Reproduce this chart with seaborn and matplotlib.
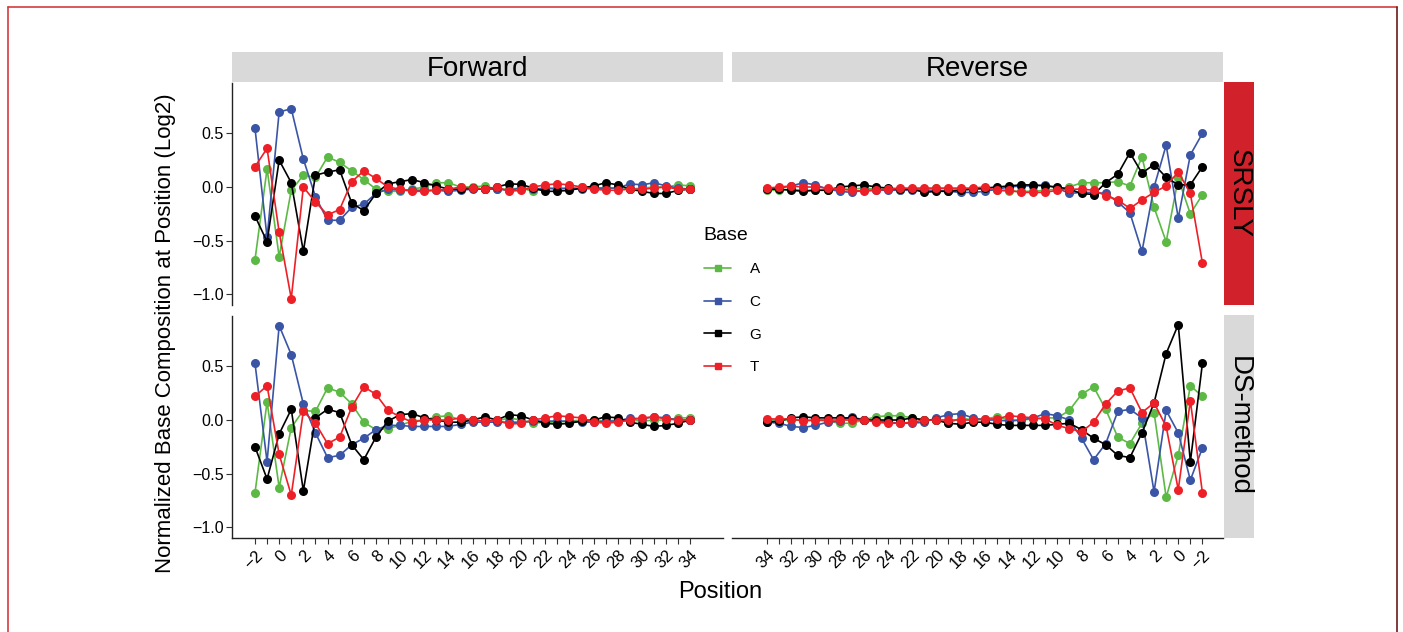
import matplotlib
matplotlib.use("Agg")
import matplotlib.pyplot as plt
from matplotlib.lines import Line2D
import numpy as np
import pandas as pd
import seaborn as sns

positions = list(range(-2, 35))
bases = ["A", "C", "G", "T"]
strands = ["Forward", "Reverse"]
methods = ["SRSLY", "DS-method"]

# values for positions -2 .. 34
srsly_fwd_A = [-0.68, 0.17, -0.65, -0.03, 0.11, 0.09, 0.28, 0.23, 0.15, 0.07, -0.02, -0.04, -0.04, -0.02, 0.0, 0.04, 0.04, 0.0, 0.0,
               0.01, -0.02, -0.02, -0.01, -0.04, -0.01, -0.01, -0.01, 0.0, -0.01, -0.01, -0.01, -0.02, -0.01, 0.0, 0.0, 0.02, 0.01]
srsly_fwd_C = [0.55, -0.47, 0.70, 0.73, 0.26, -0.09, -0.31, -0.31, -0.19, -0.16, -0.06, -0.02, -0.03, -0.03, -0.03, -0.03, -0.04, -0.03, -0.02,
               -0.02, -0.02, -0.03, -0.01, -0.02, -0.01, -0.02, -0.01, -0.02, -0.01, -0.01, -0.01, 0.03, 0.02, 0.04, 0.01, -0.01, -0.02]
srsly_fwd_G = [-0.27, -0.51, 0.25, 0.04, -0.60, 0.11, 0.14, 0.16, -0.15, -0.22, -0.06, 0.03, 0.05, 0.07, 0.04, 0.01, -0.02, -0.02, -0.01,
               -0.02, 0.0, 0.03, 0.025, -0.01, -0.04, -0.04, -0.03, -0.01, 0.01, 0.04, 0.02, -0.02, -0.04, -0.06, -0.06, -0.03, -0.02]
srsly_fwd_T = [0.19, 0.36, -0.42, -1.04, 0.0, -0.14, -0.26, -0.21, 0.05, 0.15, 0.08, 0.0, -0.02, -0.04, -0.04, -0.03, -0.02, 0.0, -0.01,
               -0.02, 0.0, -0.04, -0.03, 0.0, 0.02, 0.03, 0.02, 0.0, -0.02, -0.03, -0.03, -0.02, -0.02, -0.01, 0.0, -0.02, -0.02]

srsly_rev_A = [-0.07, -0.25, 0.08, -0.51, -0.19, 0.28, 0.01, 0.05, 0.04, 0.04, 0.04, 0.0, -0.02, -0.03, -0.04, -0.04, -0.04, -0.03, -0.02,
               -0.02, -0.02, -0.02, -0.01, -0.02, -0.02, -0.03, -0.02, -0.02, -0.01, -0.02, -0.02, -0.03, -0.03, -0.03, -0.02, -0.03, -0.03]
srsly_rev_C = [0.50, 0.30, -0.29, 0.39, 0.0, -0.60, -0.24, -0.14, -0.06, -0.05, -0.05, -0.06, -0.01, 0.02, 0.01, 0.01, 0.0, -0.02, -0.04,
               -0.05, -0.05, -0.04, -0.03, -0.03, -0.03, -0.03, -0.03, -0.03, -0.03, -0.05, -0.04, -0.02, 0.02, 0.04, 0.01, -0.01, -0.02]
srsly_rev_G = [0.19, 0.02, 0.02, 0.09, 0.21, 0.13, 0.32, 0.12, 0.04, -0.07, -0.06, -0.02, 0.0, 0.01, 0.02, 0.02, 0.01, 0.0, -0.01,
               -0.02, -0.03, -0.04, -0.04, -0.05, -0.02, -0.02, -0.01, 0.0, 0.02, 0.01, 0.0, -0.03, -0.03, -0.04, -0.03, -0.02, -0.02]
srsly_rev_T = [-0.71, -0.06, 0.14, 0.01, -0.05, -0.12, -0.20, -0.12, -0.08, -0.03, -0.02, -0.02, -0.03, -0.05, -0.05, -0.05, -0.03, -0.03, 0.0,
               -0.01, -0.01, -0.01, -0.01, -0.01, -0.01, -0.01, -0.02, -0.03, -0.04, -0.03, -0.02, -0.01, 0.0, 0.0, 0.01, 0.0, -0.01]

ds_fwd_A = [-0.68, 0.17, -0.63, -0.07, 0.09, 0.08, 0.30, 0.26, 0.15, -0.02, -0.09, -0.08, -0.05, -0.01, 0.0, 0.03, 0.04, 0.0, 0.0,
            -0.01, -0.01, 0.02, 0.0, -0.03, -0.02, -0.02, -0.01, 0.0, 0.0, -0.01, 0.0, 0.0, -0.01, 0.0, 0.0, 0.02, 0.02]
ds_fwd_C = [0.53, -0.39, 0.88, 0.61, 0.15, -0.12, -0.35, -0.33, -0.23, -0.17, -0.09, -0.05, -0.05, -0.06, -0.06, -0.06, -0.06, -0.04, -0.02,
            -0.02, -0.02, -0.02, -0.02, -0.01, -0.01, -0.01, -0.01, -0.02, -0.02, -0.01, -0.01, 0.02, 0.01, 0.03, 0.02, 0.0, 0.0]
ds_fwd_G = [-0.25, -0.55, -0.13, 0.10, -0.66, 0.02, 0.10, 0.07, -0.23, -0.37, -0.16, -0.01, 0.05, 0.06, 0.02, 0.0, -0.02, -0.02, 0.0,
            0.03, 0.0, 0.05, 0.04, 0.0, -0.03, -0.04, -0.03, -0.01, 0.0, 0.03, 0.02, -0.02, -0.04, -0.06, -0.05, -0.03, 0.0]
ds_fwd_T = [0.22, 0.32, -0.32, -0.70, 0.08, -0.03, -0.22, -0.16, 0.12, 0.31, 0.24, 0.09, 0.03, -0.02, 0.0, 0.0, 0.0, 0.02, 0.0,
            -0.01, 0.0, -0.04, -0.03, 0.0, 0.02, 0.04, 0.03, 0.02, -0.02, -0.03, -0.02, 0.0, 0.02, 0.03, 0.01, 0.0, 0.0]

ds_rev_A = [0.22, 0.32, -0.33, -0.72, 0.07, -0.03, -0.22, -0.16, 0.10, 0.31, 0.24, 0.09, 0.02, 0.02, 0.01, 0.0, 0.0, 0.03, 0.01,
            0.0, 0.02, -0.03, 0.0, 0.0, 0.02, 0.04, 0.04, 0.03, 0.0, -0.03, -0.03, -0.01, 0.0, 0.0, 0.0, 0.0, 0.0]
ds_rev_C = [-0.26, -0.56, -0.12, 0.09, -0.67, 0.02, 0.10, 0.08, -0.22, -0.37, -0.17, 0.0, 0.04, 0.06, 0.02, 0.0, -0.01, 0.0, 0.0,
            0.02, 0.06, 0.05, 0.02, -0.02, -0.03, -0.03, -0.02, -0.01, 0.0, 0.03, -0.01, -0.02, -0.05, -0.07, -0.06, -0.03, -0.02]
ds_rev_G = [0.53, -0.39, 0.89, 0.62, 0.16, -0.12, -0.35, -0.33, -0.23, -0.17, -0.09, -0.03, -0.04, -0.05, -0.05, -0.05, -0.05, -0.04, -0.02,
            -0.02, -0.04, -0.03, 0.0, 0.0, 0.02, 0.0, 0.0, 0.0, 0.0, 0.02, 0.02, 0.02, 0.02, 0.03, 0.02, -0.01, -0.02]
ds_rev_T = [-0.68, 0.18, -0.65, -0.06, 0.16, 0.07, 0.30, 0.27, 0.15, -0.02, -0.11, -0.08, -0.05, 0.01, 0.02, 0.03, 0.04, 0.01, 0.01,
            0.0, 0.0, 0.0, 0.0, 0.0, -0.02, -0.03, -0.03, -0.02, 0.0, 0.0, 0.0, 0.0, 0.0, -0.01, 0.01, 0.01, 0.01]

series = {
    ("SRSLY", "Forward"): [srsly_fwd_A, srsly_fwd_C, srsly_fwd_G, srsly_fwd_T],
    ("SRSLY", "Reverse"): [srsly_rev_A, srsly_rev_C, srsly_rev_G, srsly_rev_T],
    ("DS-method", "Forward"): [ds_fwd_A, ds_fwd_C, ds_fwd_G, ds_fwd_T],
    ("DS-method", "Reverse"): [ds_rev_A, ds_rev_C, ds_rev_G, ds_rev_T],
}

rows = []
for (method, strand), vals in series.items():
    for base, v in zip(bases, vals):
        for p, y in zip(positions, v):
            rows.append({"Method": method, "Strand": strand, "Base": base, "Position": p, "Value": y})
df = pd.DataFrame(rows)

palette = {"A": "#5DB946", "C": "#3A55A5", "G": "#000000", "T": "#EE2027"}

sns.set_style("white")
plt.rcParams["font.family"] = ["Liberation Sans", "DejaVu Sans"]
plt.rcParams["text.color"] = "black"
plt.rcParams["xtick.color"] = "black"
plt.rcParams["ytick.color"] = "black"

W, H = 1403, 632
fig = plt.figure(figsize=(W / 100, H / 100), dpi=100)


def px_axes(left, top, right, bottom):
    return fig.add_axes([left / W, 1 - bottom / H, (right - left) / W, (bottom - top) / H])


col_x = {"Forward": (232, 723), "Reverse": (732, 1223)}
row_y = {"SRSLY": (83, 305), "DS-method": (316, 538)}
tick_labels = [(str(p).replace("-", "\u2212") if p % 2 == 0 else "") for p in positions]

for method in methods:
    for strand in strands:
        l, r = col_x[strand]
        t, b = row_y[method]
        ax = px_axes(l, t, r, b)
        sub = df[(df.Method == method) & (df.Strand == strand)]
        sns.lineplot(data=sub, x="Position", y="Value", hue="Base", hue_order=bases,
                     palette=palette, marker="o", markersize=6.5, markeredgewidth=0,
                     linewidth=1.2, legend=False, ax=ax)
        ax.set_ylim(-1.10, 0.97)
        if strand == "Forward":
            ax.set_xlim(-3.9, 36.7)
        else:
            ax.set_xlim(36.9, -3.7)
        ax.set_xlabel("")
        ax.set_ylabel("")
        for s in ["top", "right"]:
            ax.spines[s].set_visible(False)
        ax.spines["left"].set_visible(strand == "Forward")
        ax.spines["bottom"].set_visible(method == "DS-method")
        for s in ["left", "bottom"]:
            ax.spines[s].set_color("#222222")
            ax.spines[s].set_linewidth(1.0)
        ax.set_yticks([0.5, 0.0, -0.5, -1.0])
        if strand == "Forward":
            ax.set_yticklabels(["0.5", "0.0", "\u22120.5", "\u22121.0"], fontsize=11.5)
            ax.tick_params(axis="y", left=True, length=4, width=0.8, color="#333333", pad=2)
        else:
            ax.tick_params(axis="y", left=False, labelleft=False)
        ax.set_xticks(positions)
        if method == "DS-method":
            ax.set_xticklabels(tick_labels, rotation=45, ha="right", va="top",
                               rotation_mode="anchor", fontsize=12)
            ax.tick_params(axis="x", bottom=True, length=4, width=0.8, color="#333333", pad=3)
        else:
            ax.tick_params(axis="x", bottom=False, labelbottom=False)
        ax.grid(False)

# column strips
for strand in strands:
    l, r = col_x[strand]
    sax = px_axes(l, 52, r, 82)
    sax.set_facecolor("#D9D9D9")
    sax.set_xticks([])
    sax.set_yticks([])
    for s in sax.spines.values():
        s.set_visible(False)
    sax.text(0.5, 0.45, strand, ha="center", va="center", fontsize=20, transform=sax.transAxes)

# row strips
strip_color = {"SRSLY": "#D1212A", "DS-method": "#D9D9D9"}
for method in methods:
    t, b = row_y[method]
    sax = px_axes(1224, t - 1, 1254, b)
    sax.set_facecolor(strip_color[method])
    sax.set_xticks([])
    sax.set_yticks([])
    for s in sax.spines.values():
        s.set_visible(False)
    sax.text(0.5, 0.5, method, ha="center", va="center", rotation=-90, fontsize=20,
             transform=sax.transAxes)

fig.text(165 / W, 1 - 333 / H, "Normalized Base Composition at Position (Log2)",
         rotation=90, ha="center", va="center", fontsize=16)
fig.text(720 / W, 1 - 592 / H, "Position", ha="center", va="center", fontsize=17)

handles = [Line2D([0], [0], color=palette[b], marker="s", markersize=5, linewidth=1.2) for b in bases]
leg = fig.legend(handles, bases, title="Base", loc="upper left",
                 bbox_to_anchor=(690 / W, 1 - 213 / H), frameon=False, fontsize=11,
                 title_fontsize=14, handlelength=1.8, labelspacing=1.22, handletextpad=1.2)
leg._legend_box.align = "left"

# outer frame
fig.add_artist(Line2D([8 / W, 8 / W], [0, 1 - 7 / H], color="#D43B3F", linewidth=1.2, transform=fig.transFigure))
fig.add_artist(Line2D([8 / W, 1397 / W], [1 - 7 / H, 1 - 7 / H], color="#D43B3F", linewidth=1.2, transform=fig.transFigure))
fig.add_artist(Line2D([1397 / W, 1397 / W], [0, 1 - 7 / H], color="#6B1A1A", linewidth=1.2, transform=fig.transFigure))

fig.savefig("out.png", dpi=100)
